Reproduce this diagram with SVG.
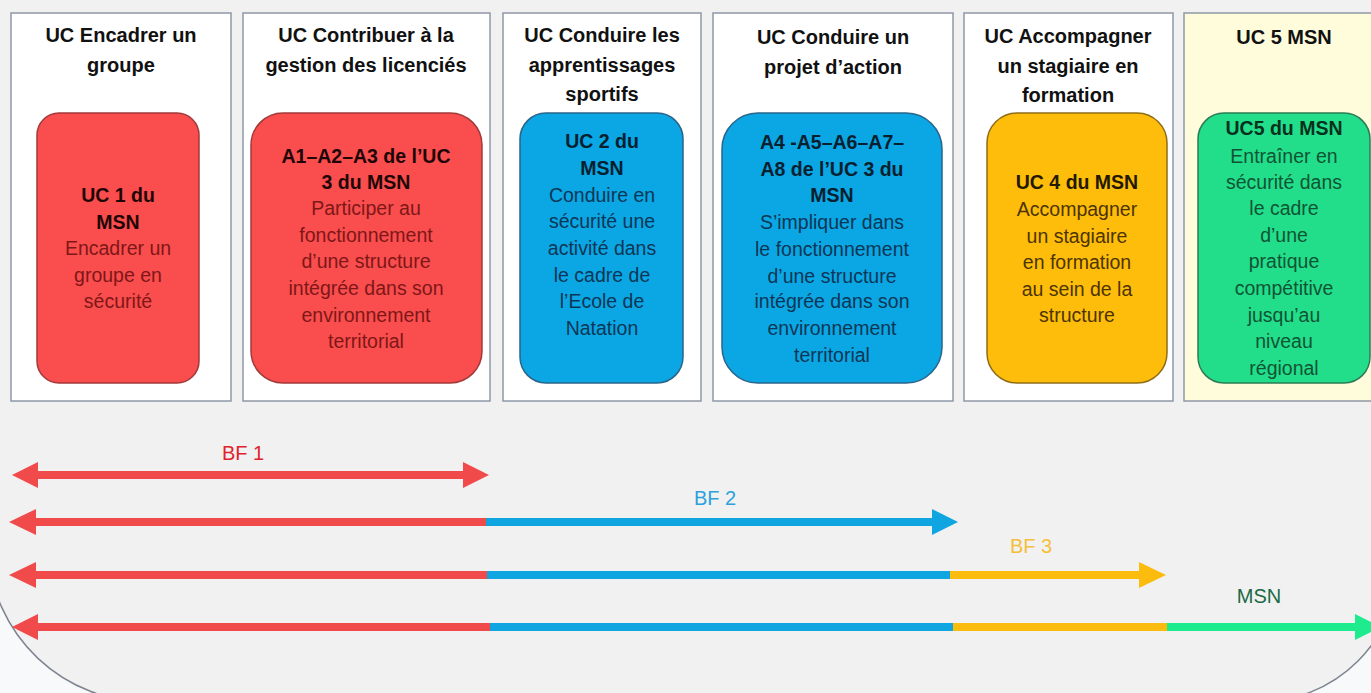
<svg xmlns="http://www.w3.org/2000/svg" width="1371" height="693" viewBox="0 0 1371 693">
<defs>
<style>
.bg{fill:#f8f9fa}
.cont{fill:#f1f1f1;stroke:#7d8490;stroke-width:1.5}
.col{fill:#ffffff;stroke:#8e98a8;stroke-width:1.5}
.col6{fill:#fffcdc;stroke:#8e98a8;stroke-width:1.5}
.hdr{font-family:"Liberation Sans",Arial,sans-serif;font-size:20px;font-weight:bold;fill:#111111;text-anchor:middle}
.bx{font-family:"Liberation Sans",Arial,sans-serif;font-size:19.5px;text-anchor:middle}
.b{font-weight:bold}
.red{fill:#fa4d4e;stroke:#a33a3a;stroke-width:1.5}
.blue{fill:#0ba6e4;stroke:#2a6489;stroke-width:1.5}
.orange{fill:#fdbd0a;stroke:#8f6c17;stroke-width:1.5}
.green{fill:#22de8b;stroke:#2e7b56;stroke-width:1.5}
.tr{fill:#7e1717}.trb{fill:#1f0606}
.tb{fill:#0b3756}.tbb{fill:#07202f}
.to{fill:#4d3400}.tob{fill:#231800}
.tg{fill:#0f5433}.tgb{fill:#06301c}
.lbl{font-family:"Liberation Sans",Arial,sans-serif;font-size:20px;text-anchor:middle}
.sr{stroke:#f04a4b;stroke-width:8;fill:none}
.sb{stroke:#0ea5e1;stroke-width:8;fill:none}
.so{stroke:#fbbc0d;stroke-width:8;fill:none}
.sg{stroke:#1deb8d;stroke-width:8;fill:none}
.hr{fill:#f04a4b}.hb{fill:#0ea5e1}.ho{fill:#fbbc0d}.hg{fill:#1deb8d}
</style>
</defs>
<rect class="bg" x="0" y="0" width="1371" height="693"/>
<path class="cont" d="M -12 -20 H 1399 V 562 A 140 140 0 0 1 1259 702 H 148 A 160 160 0 0 1 -12 551 Z"/>

<g id="col1">
<rect class="col" x="11" y="13" width="220" height="388"/>
<text class="hdr"><tspan x="121" y="42">UC Encadrer un</tspan><tspan x="121" y="72">groupe</tspan></text>
<rect class="red" x="37" y="113" width="162" height="270" rx="22"/>
<text class="bx"><tspan class="b trb" x="118" y="202">UC 1 du</tspan><tspan class="b trb" x="118" y="229">MSN</tspan><tspan class="tr" x="118" y="255">Encadrer un</tspan><tspan class="tr" x="118" y="282">groupe en</tspan><tspan class="tr" x="118" y="308">sécurité</tspan></text>
</g>

<g id="col2">
<rect class="col" x="243" y="13" width="247" height="388"/>
<text class="hdr"><tspan x="366" y="42">UC Contribuer à la</tspan><tspan x="366" y="72">gestion des licenciés</tspan></text>
<rect class="red" x="251" y="113" width="231" height="270" rx="32"/>
<text class="bx"><tspan class="b trb" x="366" y="163">A1–A2–A3 de l’UC</tspan><tspan class="b trb" x="366" y="189">3 du MSN</tspan><tspan class="tr" x="366" y="215">Participer au</tspan><tspan class="tr" x="366" y="242">fonctionnement</tspan><tspan class="tr" x="366" y="268">d’une structure</tspan><tspan class="tr" x="366" y="295">intégrée dans son</tspan><tspan class="tr" x="366" y="322">environnement</tspan><tspan class="tr" x="366" y="348">territorial</tspan></text>
</g>

<g id="col3">
<rect class="col" x="503" y="13" width="198" height="388"/>
<text class="hdr"><tspan x="602" y="42">UC Conduire les</tspan><tspan x="602" y="72">apprentissages</tspan><tspan x="602" y="101">sportifs</tspan></text>
<rect class="blue" x="520" y="113" width="163" height="270" rx="26"/>
<text class="bx"><tspan class="b tbb" x="602" y="148">UC 2 du</tspan><tspan class="b tbb" x="602" y="175">MSN</tspan><tspan class="tb" x="602" y="202">Conduire en</tspan><tspan class="tb" x="602" y="228">sécurité une</tspan><tspan class="tb" x="602" y="255">activité dans</tspan><tspan class="tb" x="602" y="282">le cadre de</tspan><tspan class="tb" x="602" y="308">l’Ecole de</tspan><tspan class="tb" x="602" y="335">Natation</tspan></text>
</g>

<g id="col4">
<rect class="col" x="713" y="13" width="240" height="388"/>
<text class="hdr"><tspan x="833" y="44">UC Conduire un</tspan><tspan x="833" y="74">projet d’action</tspan></text>
<rect class="blue" x="722" y="113" width="220" height="270" rx="36"/>
<text class="bx"><tspan class="b tbb" x="832" y="149">A4 -A5–A6–A7–</tspan><tspan class="b tbb" x="832" y="176">A8 de l’UC 3 du</tspan><tspan class="b tbb" x="832" y="202">MSN</tspan><tspan class="tb" x="832" y="229">S’impliquer dans</tspan><tspan class="tb" x="832" y="256">le fonctionnement</tspan><tspan class="tb" x="832" y="283">d’une structure</tspan><tspan class="tb" x="832" y="308">intégrée dans son</tspan><tspan class="tb" x="832" y="335">environnement</tspan><tspan class="tb" x="832" y="362">territorial</tspan></text>
</g>

<g id="col5">
<rect class="col" x="964" y="13" width="209" height="388"/>
<text class="hdr"><tspan x="1068" y="43">UC Accompagner</tspan><tspan x="1068" y="73">un stagiaire en</tspan><tspan x="1068" y="102">formation</tspan></text>
<rect class="orange" x="987" y="113" width="180" height="270" rx="30"/>
<text class="bx"><tspan class="b tob" x="1077" y="189">UC 4 du MSN</tspan><tspan class="to" x="1077" y="216">Accompagner</tspan><tspan class="to" x="1077" y="243">un stagiaire</tspan><tspan class="to" x="1077" y="269">en formation</tspan><tspan class="to" x="1077" y="296">au sein de la</tspan><tspan class="to" x="1077" y="322">structure</tspan></text>
</g>

<g id="col6">
<rect class="col6" x="1184" y="13" width="200" height="388"/>
<text class="hdr"><tspan x="1284" y="44">UC 5 MSN</tspan></text>
<rect class="green" x="1198" y="113" width="172" height="270" rx="26"/>
<text class="bx"><tspan class="b tgb" x="1284" y="135">UC5 du MSN</tspan><tspan class="tg" x="1284" y="163">Entraîner en</tspan><tspan class="tg" x="1284" y="189">sécurité dans</tspan><tspan class="tg" x="1284" y="215">le cadre</tspan><tspan class="tg" x="1284" y="242">d’une</tspan><tspan class="tg" x="1284" y="268">pratique</tspan><tspan class="tg" x="1284" y="295">compétitive</tspan><tspan class="tg" x="1284" y="322">jusqu’au</tspan><tspan class="tg" x="1284" y="348">niveau</tspan><tspan class="tg" x="1284" y="375">régional</tspan></text>
</g>

<g id="connectors">
<g id="bf1">
<line class="sr" x1="36" y1="475" x2="465" y2="475"/>
<polygon class="hr" points="12,475 38,462 38,488"/>
<polygon class="hr" points="489,475 463,462 463,488"/>
<text class="lbl" x="243" y="460" fill="#e0232b">BF 1</text>
</g>
<g id="bf2">
<line class="sr" x1="34" y1="522" x2="486" y2="522"/>
<line class="sb" x1="486" y1="522" x2="934" y2="522"/>
<polygon class="hr" points="9,522 36,509 36,535"/>
<polygon class="hb" points="958,522 932,509 932,535"/>
<text class="lbl" x="715" y="505" fill="#2ba2dc">BF 2</text>
</g>
<g id="bf3">
<line class="sr" x1="34" y1="575" x2="487" y2="575"/>
<line class="sb" x1="487" y1="575" x2="950" y2="575"/>
<line class="so" x1="950" y1="575" x2="1141" y2="575"/>
<polygon class="hr" points="9,575 36,562 36,588"/>
<polygon class="ho" points="1166,575 1139,562 1139,588"/>
<text class="lbl" x="1031" y="553" fill="#f4c03c">BF 3</text>
</g>
<g id="msn">
<line class="sr" x1="36" y1="627" x2="490" y2="627"/>
<line class="sb" x1="490" y1="627" x2="953" y2="627"/>
<line class="so" x1="953" y1="627" x2="1167" y2="627"/>
<line class="sg" x1="1167" y1="627" x2="1357" y2="627"/>
<polygon class="hr" points="12,627 38,614 38,640"/>
<polygon class="hg" points="1381,627 1355,614 1355,640"/>
<text class="lbl" x="1259" y="603" fill="#1c6a45">MSN</text>
</g>
</g>
</svg>
